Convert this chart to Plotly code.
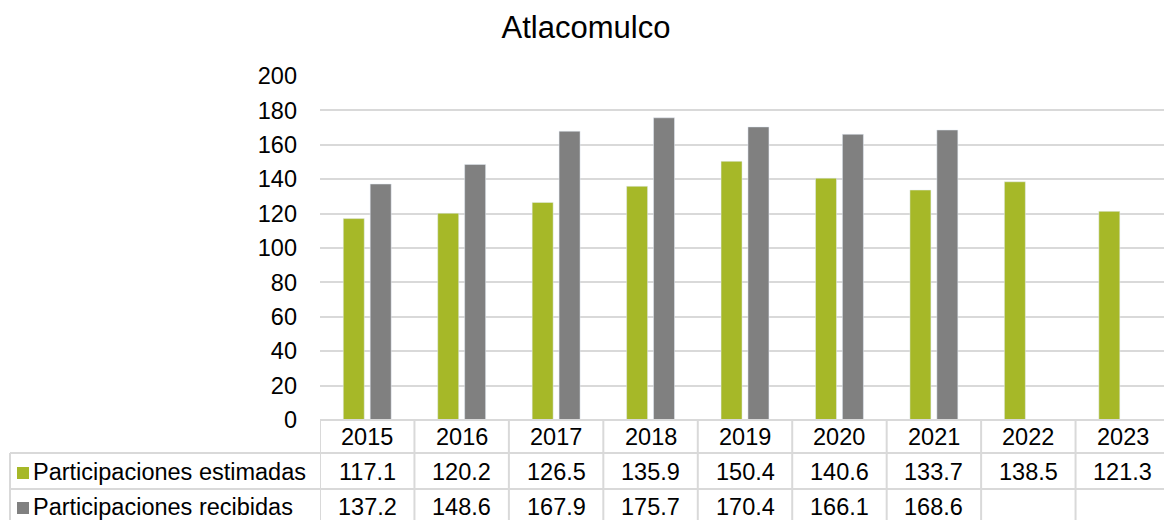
import plotly.graph_objects as go

# chart data
years = ['2015', '2016', '2017', '2018', '2019', '2020', '2021', '2022', '2023']
estimadas = [117.1, 120.2, 126.5, 135.9, 150.4, 140.6, 133.7, 138.5, 121.3]
recibidas = [137.2, 148.6, 167.9, 175.7, 170.4, 166.1, 168.6, None, None]
series_names = ['Participaciones estimadas', 'Participaciones recibidas']
y_ticks = [0, 20, 40, 60, 80, 100, 120, 140, 160, 180, 200]

GREEN = '#A6B828'
GRAY = '#808080'
LINE = '#D9D9D9'
FONT = 'Liberation Sans, Arial, sans-serif'
FS = 23.5

# page has an 8px body margin, so the figure sits 8px right/down in the window
OFF = 8
W, H = 1172, 520
ML, MR, MT, MB = 320 - OFF, W - (1170 - OFF), 76 - OFF, H - (420 - OFF)


def px_x(px):
    # window pixel -> paper x
    return (px - OFF - ML) / (W - ML - MR)


def px_y(py):
    # window pixel -> paper y
    return (H - MB - (py - OFF)) / (H - MT - MB)


fig = go.Figure()
fig.add_trace(go.Bar(x=years, y=estimadas, name=series_names[0], marker_color=GREEN))
fig.add_trace(go.Bar(x=years, y=recibidas, name=series_names[1], marker_color=GRAY))

shapes = []
annotations = []

# data table grid
row_lines = [420, 453, 489]
for i, py in enumerate(row_lines):
    x0 = 0 if i == 0 else px_x(10)
    shapes.append(dict(type='line', xref='paper', yref='paper', x0=x0, x1=1,
                       y0=px_y(py), y1=px_y(py), line=dict(color=LINE, width=2)))
for i in range(len(years) + 1):
    shapes.append(dict(type='line', xref='x', yref='paper', x0=i - 0.5, x1=i - 0.5,
                       y0=0, y1=px_y(540), line=dict(color=LINE, width=2)))
shapes.append(dict(type='line', xref='paper', yref='paper', x0=px_x(10), x1=px_x(10),
                   y0=px_y(453), y1=px_y(540), line=dict(color=LINE, width=2)))

row_y = [437, 472, 507]
for i, yr in enumerate(years):
    annotations.append(dict(x=i, y=px_y(row_y[0]), xref='x', yref='paper', yanchor='middle',
                            text=yr, showarrow=False,
                            font=dict(size=FS, color='#000000', family=FONT)))
for r, (vals, color) in enumerate([(estimadas, GREEN), (recibidas, GRAY)]):
    yy = px_y(row_y[r + 1])
    for i, v in enumerate(vals):
        annotations.append(dict(x=i, y=yy, xref='x', yref='paper', yanchor='middle',
                                text='' if v is None else f'{v:.1f}',
                                showarrow=False, font=dict(size=FS, color='#000000', family=FONT)))
    # legend key + series name
    shapes.append(dict(type='rect', xref='paper', yref='paper', x0=px_x(17), x1=px_x(29),
                       y0=px_y(row_y[r + 1] - 5), y1=px_y(row_y[r + 1] + 7),
                       fillcolor=color, line=dict(width=0)))
    annotations.append(dict(x=px_x(31), y=yy, xref='paper', yref='paper',
                            xanchor='left', yanchor='middle',
                            text=series_names[r], showarrow=False,
                            font=dict(size=FS, color='#000000', family=FONT)))

fig.update_layout(
    width=W, height=H,
    margin=dict(l=ML, r=MR, t=MT, b=MB, pad=0),
    paper_bgcolor='white', plot_bgcolor='white',
    title=dict(text='Atlacomulco', x=(586 - OFF) / W, xref='container', xanchor='center',
               y=1 - (27 - OFF) / H, yref='container', yanchor='middle',
               font=dict(size=31, color='#000000', family=FONT)),
    barmode='group', bargap=0.43, bargroupgap=0.22,
    showlegend=False,
    shapes=shapes, annotations=annotations,
    font=dict(family=FONT, color='#000000'),
)
fig.update_xaxes(type='category', range=[-0.5, len(years) - 0.5], showticklabels=False,
                 showgrid=False, showline=False, zeroline=False, ticks='')
fig.update_yaxes(range=[0, 200], tickvals=y_ticks, showgrid=True, gridcolor=LINE, gridwidth=2,
                 zeroline=False, showline=False, ticks='', ticklabelstandoff=22,
                 tickfont=dict(size=FS, color='#000000', family=FONT))

fig.write_html('out.html')
